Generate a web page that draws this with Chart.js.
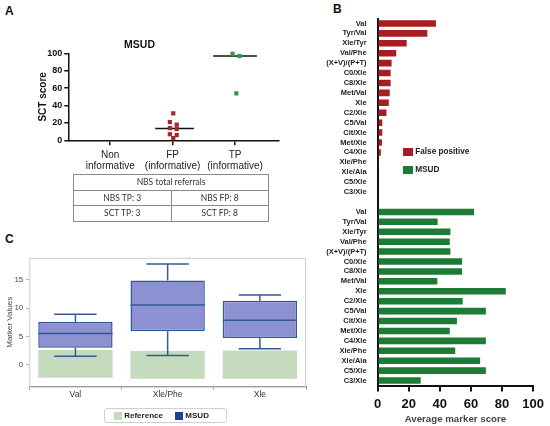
<!DOCTYPE html>
<html>
<head>
<meta charset="utf-8">
<script src="https://cdn.jsdelivr.net/npm/chart.js@4/dist/chart.umd.min.js"></script>
<style>
  html, body { margin: 0; padding: 0; background: #fff; }
  body { width: 550px; height: 426px; position: relative; overflow: hidden; font-family: "Liberation Sans", Arial, sans-serif; }
  .box { position: absolute; }
  .tag { position: absolute; font-weight: bold; font-size: 12px; color: #111; line-height: 12px; }
  #referrals { position: absolute; left: 73px; top: 174px; width: 196px; border-collapse: collapse; font-family: Lato, "Open Sans", sans-serif; font-size: 8.5px; color: #333; }
  #referrals td { border: 1px solid #8a8a8a; height: 14.5px; padding: 0; text-align: center; width: 50%; }
  .leg { position: absolute; font-weight: bold; color: #222; white-space: nowrap; }
  .sw { display: inline-block; vertical-align: middle; }
  #legendC { left: 104px; top: 408px; width: 121px; height: 13px; border: 1px solid #cfcfcf; border-radius: 3px; font-size: 8px; line-height: 13px; }
</style>
</head>
<body>
<div class="tag" style="left:5px;top:5px;">A</div>
<div class="tag" style="left:333px;top:3px;">B</div>
<div class="tag" style="left:5px;top:233px;">C</div>

<div class="box" style="left:0;top:30px;width:290px;height:145px;"><canvas id="scoreChart"></canvas></div>
<table id="referrals">
  <tr><td colspan="2">NBS total referrals</td></tr>
  <tr><td>NBS TP: 3</td><td>NBS FP: 8</td></tr>
  <tr><td>SCT TP: 3</td><td>SCT FP: 8</td></tr>
</table>

<div class="box" style="left:325px;top:0;width:225px;height:426px;"><canvas id="markerChart"></canvas></div>
<div class="leg" style="left:403px;top:147px;font-size:8.2px;line-height:10px;">
  <span class="sw" style="width:10px;height:8px;background:#a61e22;"></span> False positive
</div>
<div class="leg" style="left:403px;top:165px;font-size:8.2px;line-height:10px;">
  <span class="sw" style="width:10px;height:8px;background:#1e7b36;"></span> MSUD
</div>

<div class="box" style="left:0;top:250px;width:310px;height:176px;"><canvas id="boxChart"></canvas></div>
<div class="leg" id="legendC">
  <span class="sw" style="width:8px;height:8px;background:#c5dbbe;margin-left:9px;"></span> Reference
  <span class="sw" style="width:8px;height:8px;background:#1f3f99;margin-left:10px;"></span> MSUD
</div>

<script>
/* Panel A: SCT score per referral group */
const groupLabels = [['Non', 'informative'], ['FP', '(informative)'], ['TP', '(informative)']];
const fpScores = [31, 21, 18, 14, 13, 7, 6, 2.5];
const tpScores = [99.5, 97, 54];

/* Panel B: average marker score */
const markerNames = ['Val', 'Tyr/Val', 'Xle/Tyr', 'Val/Phe', '(X+V)/(P+T)', 'C0/Xle', 'C8/Xle', 'Met/Val', 'Xle',
  'C2/Xle', 'C5/Val', 'Cit/Xle', 'Met/Xle', 'C4/Xle', 'Xle/Phe', 'Xle/Ala', 'C5/Xle', 'C3/Xle'];
const falsePositiveScores = [37.5, 32, 18.7, 12, 9, 8.4, 8.4, 7.8, 7.2, 5.7, 3, 3, 2.8, 2.1, 0.8, 0, 0, 0];
const msudScores = [62, 38.6, 46.8, 46.4, 46.8, 54.3, 54.3, 38.4, 82.4, 54.7, 69.6, 51, 46.4, 69.6, 49.9, 65.9, 69.6, 27.7];
const scoreTicks = [0, 20, 40, 60, 80, 100];

/* Panel C: marker values, reference range vs MSUD box */
const boxLabels = ['Val', 'Xle/Phe', 'Xle'];
const refLow = [-2.3, -2.5, -2.5];
const refHigh = [2.6, 2.4, 2.5];
const msudMin = [1.5, 1.6, 2.8];
const msudQ1 = [3.0, 5.9, 4.7];
const msudMedian = [5.5, 10.55, 7.85];
const msudQ3 = [7.55, 14.9, 11.3];
const msudMax = [8.9, 17.8, 12.3];
const boxTicks = [0, 5, 10, 15];

// small horizontal spread of the dots inside a column
const fpJitter = [0.01, -0.045, 0.065, -0.045, 0.065, -0.045, 0.065, 0.01];
const tpJitter = [-0.04, 0.07, 0.02];

function median(arr) {
    const s = [...arr].sort((a, b) => a - b);
    const m = Math.floor(s.length / 2);
    return s.length % 2 ? s[m] : (s[m - 1] + s[m]) / 2;
}

Chart.defaults.font.family = '"Liberation Sans", Arial, sans-serif';
Chart.defaults.animation = false;

/* ---- A ---- */
const fpMed = median(fpScores);
const tpMed = median(tpScores);
new Chart(document.getElementById('scoreChart'), {
    type: 'scatter',
    data: {
        datasets: [
            { data: fpScores.map((v, i) => ({ x: 1 + fpJitter[i], y: v })), pointStyle: 'rect', pointRadius: 3,
              backgroundColor: '#a3282c', borderWidth: 0, clip: false },
            { data: tpScores.map((v, i) => ({ x: 2 + tpJitter[i], y: v })), pointStyle: 'rect', pointRadius: 3,
              backgroundColor: '#2c9c4c', borderWidth: 0, clip: false },
            { data: [{ x: 0.72, y: fpMed }, { x: 1.34, y: fpMed }], showLine: true, pointRadius: 0,
              borderColor: '#111', borderWidth: 1.5, clip: false },
            { data: [{ x: 1.65, y: tpMed }, { x: 2.35, y: tpMed }], showLine: true, pointRadius: 0,
              borderColor: '#111', borderWidth: 1.5, clip: false }
        ]
    },
    options: {
        responsive: true,
        maintainAspectRatio: false,
        layout: { padding: { left: 0, right: 11, top: 0, bottom: 0 } },
        plugins: {
            legend: { display: false },
            tooltip: { enabled: false },
            title: { display: true, text: 'MSUD', color: '#111', font: { size: 10.5, weight: 'bold' }, padding: { top: 8.4, bottom: 2.4 } }
        },
        scales: {
            x: {
                type: 'linear', min: -0.672, max: 2.704,
                afterBuildTicks: s => { s.ticks = groupLabels.map((_, i) => ({ value: i })); },
                afterFit: s => { s.height = 34.7; },
                ticks: { callback: (v, i) => groupLabels[i], color: '#222', font: { size: 10, lineHeight: 1.05 }, padding: 4.7, maxRotation: 0 },
                grid: { drawOnChartArea: false, tickLength: 5, color: '#111', lineWidth: 1.5 },
                border: { color: '#111', width: 1.5 }
            },
            y: {
                min: 0, max: 100,
                afterFit: s => { s.width = 68.3; },
                ticks: { stepSize: 20, color: '#111', font: { size: 9, weight: 'bold' }, padding: 2 },
                grid: { drawOnChartArea: false, tickLength: 4, color: '#111', lineWidth: 1.5 },
                border: { color: '#111', width: 1.5 },
                title: { display: true, text: 'SCT score', color: '#111', font: { size: 10, weight: 'bold' }, padding: { top: 37, bottom: 0 } }
            }
        }
    }
});

/* ---- B ---- */
const rowLabels = [...markerNames, '', ...markerNames];
const gap = markerNames.length + 1;
new Chart(document.getElementById('markerChart'), {
    type: 'bar',
    data: {
        labels: rowLabels,
        datasets: [
            { label: 'False positive', data: rowLabels.map((_, i) => i < markerNames.length ? falsePositiveScores[i] : null),
              backgroundColor: '#a61e22', borderWidth: 0 },
            { label: 'MSUD', data: rowLabels.map((_, i) => i >= gap ? msudScores[i - gap] : null),
              backgroundColor: '#1e7b36', borderWidth: 0 }
        ]
    },
    options: {
        indexAxis: 'y',
        responsive: true,
        maintainAspectRatio: false,
        grouped: false,
        barPercentage: 0.66,
        categoryPercentage: 1,
        layout: { padding: { left: 0, right: 13.3, top: 18.5, bottom: 0 } },
        plugins: { legend: { display: false }, tooltip: { enabled: false } },
        scales: {
            x: {
                min: 0, max: 100,
                afterBuildTicks: s => { s.ticks = scoreTicks.map(v => ({ value: v })); },
                afterFit: s => { s.height = 40.5; },
                ticks: { color: '#111', font: { size: 13, weight: 'bold', lineHeight: 1 }, padding: 6 },
                grid: { drawOnChartArea: false, tickLength: 6, color: '#111', lineWidth: 2 },
                border: { color: '#111', width: 2 },
                title: { display: true, text: 'Average marker score', color: '#444', font: { size: 9.7, weight: 'bold' }, padding: { top: 0, bottom: 1.2 } }
            },
            y: {
                afterFit: s => { s.width = 52.6; },
                ticks: { autoSkip: false, color: '#222', font: { size: 7.5, weight: 'bold' }, padding: 3 },
                grid: { display: false },
                border: { color: '#111', width: 2 }
            }
        }
    }
});

/* ---- C ---- */
const framePlugin = {
    id: 'frame',
    beforeDatasetsDraw(chart) {
        const a = chart.chartArea, ctx = chart.ctx;
        ctx.save();
        ctx.strokeStyle = '#cbcbcb';
        ctx.lineWidth = 1;
        ctx.strokeRect(a.left + 0.5, a.top + 0.5, a.right - a.left - 1, a.bottom - a.top);
        ctx.restore();
    }
};
const whiskerPlugin = {
    id: 'whiskers',
    afterDatasetsDraw(chart) {
        const ctx = chart.ctx, y = chart.scales.y;
        const bars = chart.getDatasetMeta(1).data;
        ctx.save();
        ctx.strokeStyle = '#32589a';
        ctx.lineWidth = 1.5;
        bars.forEach((bar, i) => {
            const x = bar.x, half = bar.width / 2, cap = half * 0.57;
            const lines = [
                [x - half, msudMedian[i], x + half, msudMedian[i]],
                [x, msudQ3[i], x, msudMax[i]],
                [x, msudQ1[i], x, msudMin[i]],
                [x - cap, msudMax[i], x + cap, msudMax[i]],
                [x - cap, msudMin[i], x + cap, msudMin[i]]
            ];
            lines.forEach(l => {
                ctx.beginPath();
                ctx.moveTo(l[0], y.getPixelForValue(l[1]));
                ctx.lineTo(l[2], y.getPixelForValue(l[3]));
                ctx.stroke();
            });
        });
        ctx.restore();
    }
};
new Chart(document.getElementById('boxChart'), {
    type: 'bar',
    data: {
        labels: boxLabels,
        datasets: [
            { label: 'Reference', data: refLow.map((v, i) => [v, refHigh[i]]), backgroundColor: '#c5dbbe', borderWidth: 0, order: 2 },
            { label: 'MSUD', data: msudQ1.map((v, i) => [v, msudQ3[i]]), backgroundColor: '#8c91d2',
              borderColor: '#32589a', borderWidth: 1.5, borderSkipped: false, order: 1 }
        ]
    },
    options: {
        responsive: true,
        maintainAspectRatio: false,
        grouped: false,
        barPercentage: 0.806,
        categoryPercentage: 1,
        layout: { padding: { left: 0, right: 4, top: 5, bottom: 0 } },
        plugins: { legend: { display: false }, tooltip: { enabled: false } },
        scales: {
            x: {
                afterFit: s => { s.height = 39.3; },
                ticks: { color: '#333', font: { size: 8.5 }, padding: 0 },
                grid: { offset: true, drawOnChartArea: false, tickLength: 3, color: '#999' },
                border: { color: '#888', width: 1 }
            },
            y: {
                min: -3.9, max: 18.9,
                afterBuildTicks: s => { s.ticks = boxTicks.map(v => ({ value: v })); },
                afterFit: s => { s.width = 29.3; },
                ticks: { color: '#444', font: { size: 8 }, padding: 3 },
                grid: { drawOnChartArea: false, tickLength: 3, color: '#aaa' },
                border: { display: false },
                title: { display: true, text: 'Marker Values', color: '#444', font: { size: 8 }, padding: { top: 5.2, bottom: 0 } }
            }
        }
    },
    plugins: [framePlugin, whiskerPlugin]
});
</script>
</body>
</html>
